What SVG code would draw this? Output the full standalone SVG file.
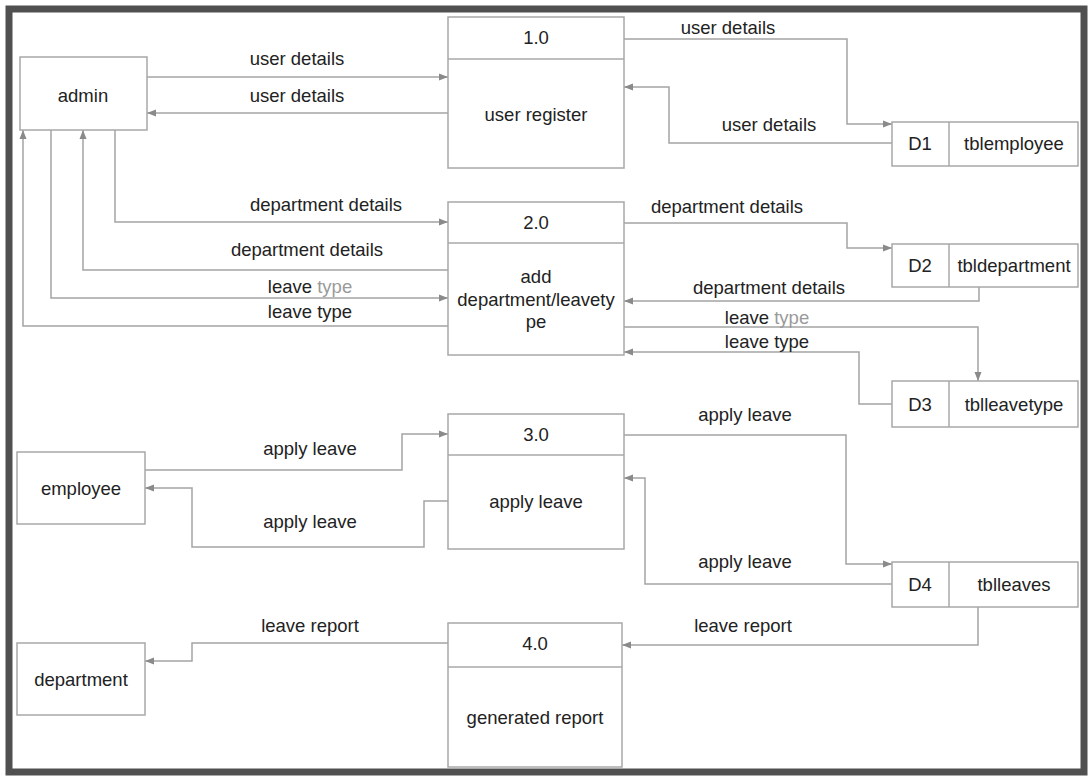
<svg xmlns="http://www.w3.org/2000/svg" width="1089" height="780" viewBox="0 0 1089 780">
<style>
.box{fill:#fff;stroke:#a8a8a8;stroke-width:1.5}
.div{stroke:#a8a8a8;stroke-width:1.5}
.t{font-family:"Liberation Sans",Arial,sans-serif;font-size:18.5px;fill:#222;text-anchor:middle}
.c{fill:none;stroke:#a4a4a4;stroke-width:1.5}
.g{fill:#9a9a9a}
</style>
<defs>
<marker id="ah" markerWidth="9" markerHeight="8" refX="9" refY="4" orient="auto" markerUnits="userSpaceOnUse">
<path d="M0,0.5 L9,4 L0,7.5 Z" fill="#8a8a8a"/>
</marker>
</defs>
<rect x="0" y="0" width="1089" height="780" fill="#fff"/>
<rect x="9" y="9" width="1075" height="763" fill="none" stroke="#505050" stroke-width="7"/>

<g id="connectors">
<path class="c" marker-end="url(#ah)" d="M147,77 H448"/>
<path class="c" marker-end="url(#ah)" d="M448,113 H147"/>
<path class="c" marker-end="url(#ah)" d="M624,39 H847 V124 H892"/>
<path class="c" marker-end="url(#ah)" d="M892,143 H669 V87 H624"/>
<path class="c" marker-end="url(#ah)" d="M115,130 V222 H448"/>
<path class="c" marker-end="url(#ah)" d="M448,270 H83 V130"/>
<path class="c" marker-end="url(#ah)" d="M51,130 V298 H448"/>
<path class="c" marker-end="url(#ah)" d="M448,326 H23 V130"/>
<path class="c" marker-end="url(#ah)" d="M624,223 H847 V248 H892"/>
<path class="c" marker-end="url(#ah)" d="M979,287 V301 H624"/>
<path class="c" marker-end="url(#ah)" d="M624,327 H978 V381"/>
<path class="c" marker-end="url(#ah)" d="M892,404 H859 V352 H624"/>
<path class="c" marker-end="url(#ah)" d="M145,470 H402 V434 H448"/>
<path class="c" marker-end="url(#ah)" d="M448,501 H424 V547 H192 V488 H145"/>
<path class="c" marker-end="url(#ah)" d="M624,435 H846 V564 H892"/>
<path class="c" marker-end="url(#ah)" d="M892,584 H645 V478 H624"/>
<path class="c" marker-end="url(#ah)" d="M978,607 V645 H622"/>
<path class="c" marker-end="url(#ah)" d="M448,643 H192 V661 H145"/>
<text class="t" x="297" y="65">user details</text>
<text class="t" x="297" y="102">user details</text>
<text class="t" x="728" y="34">user details</text>
<text class="t" x="769" y="131">user details</text>
<text class="t" x="326" y="211">department details</text>
<text class="t" x="307" y="256">department details</text>
<text class="t" x="727" y="213">department details</text>
<text class="t" x="769" y="294">department details</text>
<text class="t" x="310" y="293">leave <tspan class="g">type</tspan></text>
<text class="t" x="310" y="318">leave type</text>
<text class="t" x="767" y="324">leave <tspan class="g">type</tspan></text>
<text class="t" x="767" y="348">leave type</text>
<text class="t" x="310" y="455">apply leave</text>
<text class="t" x="310" y="528">apply leave</text>
<text class="t" x="745" y="421">apply leave</text>
<text class="t" x="745" y="568">apply leave</text>
<text class="t" x="310" y="632">leave report</text>
<text class="t" x="743" y="632">leave report</text>
</g>

<g id="admin">
<rect class="box" x="20" y="57" width="127" height="73"/>
<text class="t" x="83" y="102">admin</text>
</g>
<g id="employee">
<rect class="box" x="17" y="452" width="128" height="72"/>
<text class="t" x="81" y="495">employee</text>
</g>
<g id="department">
<rect class="box" x="17" y="643" width="128" height="72"/>
<text class="t" x="81" y="686">department</text>
</g>

<g id="p1">
<rect class="box" x="448" y="17" width="176" height="151"/>
<line class="div" x1="448" y1="59" x2="624" y2="59"/>
<text class="t" x="536" y="44">1.0</text>
<text class="t" x="536" y="121">user register</text>
</g>
<g id="p2">
<rect class="box" x="448" y="202" width="176" height="153"/>
<line class="div" x1="448" y1="243" x2="624" y2="243"/>
<text class="t" x="536" y="229">2.0</text>
<text class="t" x="536" y="283">add</text>
<text class="t" x="536" y="306">department/leavety</text>
<text class="t" x="536" y="328">pe</text>
</g>
<g id="p3">
<rect class="box" x="448" y="414" width="176" height="135"/>
<line class="div" x1="448" y1="455" x2="624" y2="455"/>
<text class="t" x="536" y="441">3.0</text>
<text class="t" x="536" y="508">apply leave</text>
</g>
<g id="p4">
<rect class="box" x="448" y="623" width="174" height="144"/>
<line class="div" x1="448" y1="667" x2="622" y2="667"/>
<text class="t" x="535" y="650">4.0</text>
<text class="t" x="535" y="724">generated report</text>
</g>

<g id="d1">
<rect class="box" x="892" y="122" width="186" height="44"/>
<line class="div" x1="949" y1="122" x2="949" y2="166"/>
<text class="t" x="920" y="150">D1</text>
<text class="t" x="1014" y="150">tblemployee</text>
</g>
<g id="d2">
<rect class="box" x="892" y="244" width="186" height="43"/>
<line class="div" x1="949" y1="244" x2="949" y2="287"/>
<text class="t" x="920" y="272">D2</text>
<text class="t" x="1014" y="272">tbldepartment</text>
</g>
<g id="d3">
<rect class="box" x="892" y="381" width="186" height="46"/>
<line class="div" x1="949" y1="381" x2="949" y2="427"/>
<text class="t" x="920" y="411">D3</text>
<text class="t" x="1014" y="411">tblleavetype</text>
</g>
<g id="d4">
<rect class="box" x="892" y="562" width="186" height="45"/>
<line class="div" x1="949" y1="562" x2="949" y2="607"/>
<text class="t" x="920" y="591">D4</text>
<text class="t" x="1014" y="591">tblleaves</text>
</g>
</svg>
